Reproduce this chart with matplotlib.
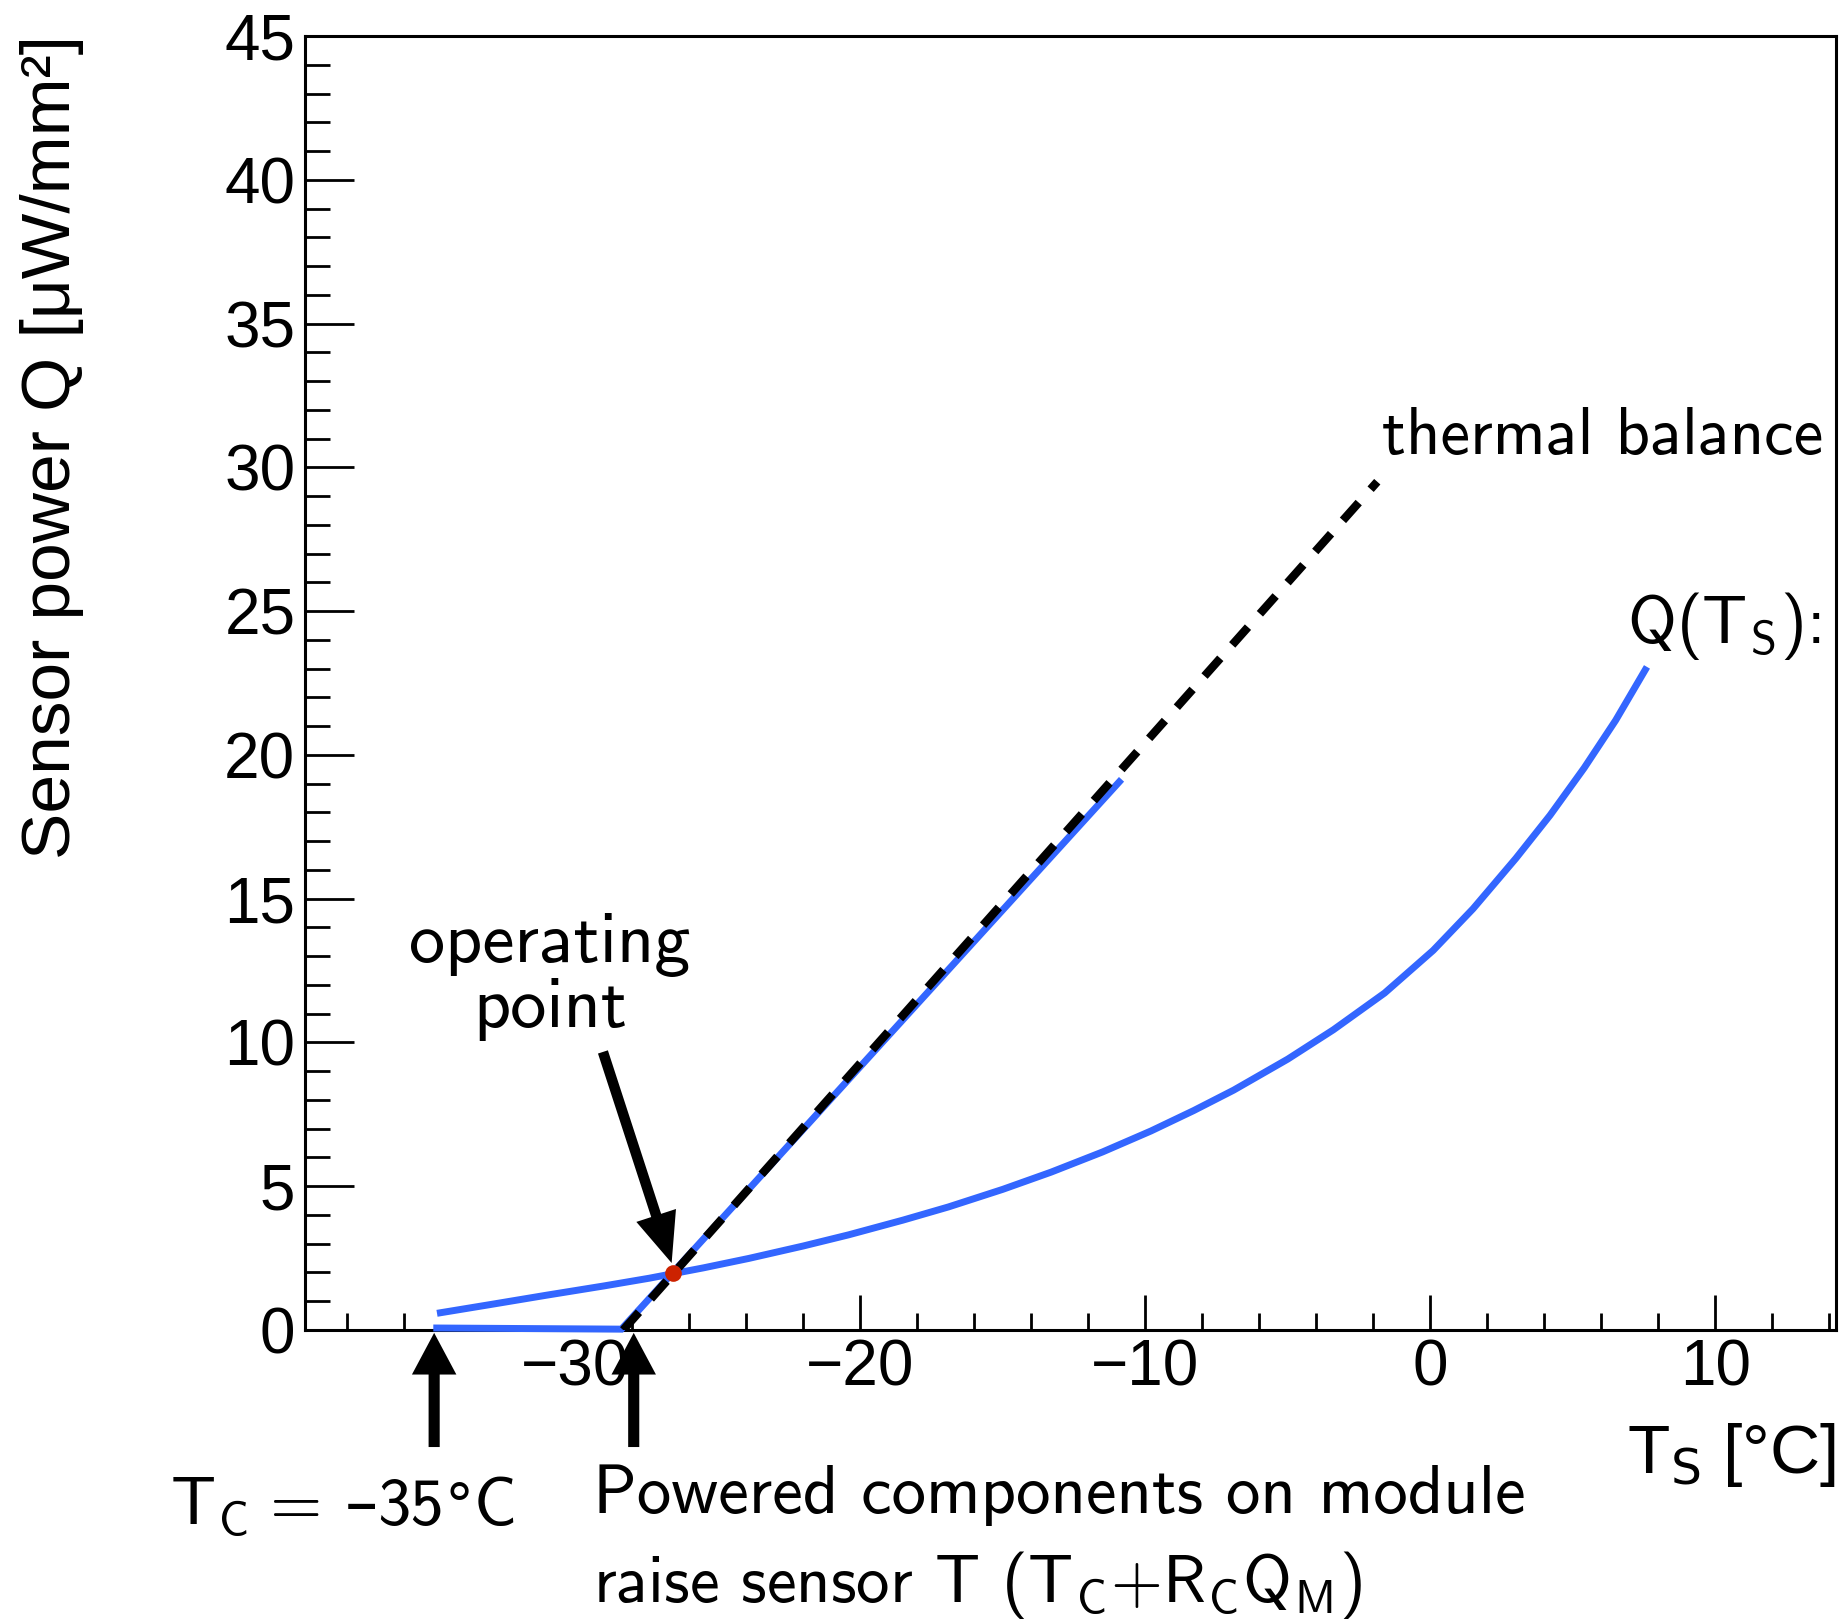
import matplotlib
matplotlib.use('Agg')
import matplotlib.pyplot as plt
from matplotlib.ticker import MultipleLocator

# data
q_T = [-34.84, -33.0, -31.0, -29.0, -27.4, -25.5, -23.9, -22.0, -20.4, -18.5, -16.9,
       -15.0, -13.3, -11.5, -9.8, -8.3, -6.9, -5.0, -3.4, -1.6, 0.1, 1.5, 3.0, 4.2,
       5.4, 6.5, 7.6]
q_Q = [0.58, 0.88, 1.21, 1.53, 1.80, 2.16, 2.49, 2.92, 3.31, 3.82, 4.28,
       4.89, 5.49, 6.19, 6.92, 7.63, 8.34, 9.42, 10.44, 11.72, 13.2, 14.65, 16.4, 17.9,
       19.55, 21.2, 23.06]

powered_T = [-34.97, -28.37, -10.83]
powered_Q = [0.07, 0.03, 19.15]

balance_T = [-28.31, -1.86]
balance_Q = [0.0, 29.5]

op_T = -26.55
op_Q = 1.97

T_C = -34.94
T_powered = -27.94

plt.rcParams['font.family'] = ['Liberation Sans', 'DejaVu Sans']
plt.rcParams['mathtext.fontset'] = 'custom'
plt.rcParams['mathtext.rm'] = 'cmss10'
plt.rcParams['mathtext.sf'] = 'cmss10'
plt.rcParams['mathtext.it'] = 'cmss10'
plt.rcParams['mathtext.fallback'] = 'cm'

blue = '#3366ff'
ann_font = ['cmss10', 'DejaVu Sans']

fig = plt.figure(figsize=(18.4, 16.19), dpi=100)
ax = fig.add_axes([305 / 1840, 289 / 1619, 1531 / 1840, 1294 / 1619])

# white filled area under the powered-components graph (hides some ticks, as in ROOT)
ax.fill(powered_T, powered_Q, color='white', zorder=2.6, lw=0)

ax.plot(q_T, q_Q, color=blue, lw=5, zorder=3, solid_capstyle='butt')
ax.plot(powered_T, powered_Q, color=blue, lw=5, zorder=3, clip_on=False,
        solid_capstyle='butt', solid_joinstyle='miter')
ax.plot(balance_T, balance_Q, color='black', lw=6, zorder=4,
        dashes=(2.85, 2.15), dash_capstyle='butt')
ax.plot([op_T], [op_Q], 'o', color='#cc2200', markersize=12, zorder=5, mec='none')

ax.set_xlim(-39.47, 14.23)
ax.set_ylim(0, 45)
ax.xaxis.set_major_locator(MultipleLocator(10))
ax.xaxis.set_minor_locator(MultipleLocator(2))
ax.yaxis.set_major_locator(MultipleLocator(5))
ax.yaxis.set_minor_locator(MultipleLocator(1))
ax.tick_params(axis='both', which='both', direction='in', width=2,
               top=False, right=False, labelsize=46)
ax.tick_params(axis='x', which='major', length=25, pad=6)
ax.tick_params(axis='x', which='minor', length=12)
ax.tick_params(axis='y', which='major', length=35, pad=7)
ax.tick_params(axis='y', which='minor', length=18)
for sp in ax.spines.values():
    sp.set_linewidth(2.2)

# axis titles, ROOT style (right / top aligned)
ax.text(14.23, -4.97, r'T$_\mathrm{S}$ [°C]', fontsize=50, ha='right', va='baseline',
        math_fontfamily='dejavusans', clip_on=False)
ax.text(-48.35, 45.03, 'Sensor power Q [μW/mm²]', fontsize=50, rotation=90,
        ha='center', va='top', clip_on=False)


# annotations
def ann(x, y, s, ha, size=48):
    return ax.text(x, y, s, fontsize=size, family=ann_font, ha=ha, va='baseline',
                   clip_on=False)


def ann_after(prev, y, s, family=ann_font, size=48):
    # continue a text right after the previous piece, on the same baseline
    return ax.annotate(s, xy=(1, y), xycoords=(prev, 'data'), fontsize=size,
                       family=family, ha='left', va='baseline', annotation_clip=False)


ann(13.77, 30.46, 'thermal balance', 'right')
ann(13.7, 23.89, r'Q(T$_\mathrm{S}$):', 'right')
ann(-30.88, 12.80, 'operating', 'center', 52)
ann(-30.88, 10.54, 'point', 'center', 52)
tc = ann(-44.2, -6.78, r'T$_\mathrm{C}$', 'left')
t2 = ann_after(tc, -6.78, ' = ')
t3 = ann_after(t2, -6.78, '\u2013', family='DejaVu Sans', size=48)
t4 = ann_after(t3, -6.78, '35')
t5 = ann_after(t4, -6.78, '°', family='DejaVu Sans', size=42)
ann_after(t5, -6.78, 'C')
ann(-29.37, -6.36, 'Powered components on module', 'left', 49.5)
ann(-29.37, -9.45, r'raise sensor T (T$_\mathrm{C}$+R$_\mathrm{C}$Q$_\mathrm{M}$)', 'left')

# arrows
ax.annotate('', xy=(op_T - 0.06, op_Q + 0.36), xytext=(-29.02, 9.67),
            arrowprops=dict(arrowstyle='simple,head_length=36,head_width=30,tail_width=7.5',
                            mutation_scale=1, color='black', lw=0, shrinkA=0, shrinkB=0),
            annotation_clip=False, zorder=6)
for xa in [T_C, T_powered]:
    ax.annotate('', xy=(xa, -0.1), xytext=(xa, -4.07),
                arrowprops=dict(arrowstyle='simple,head_length=30,head_width=32,tail_width=8',
                                mutation_scale=1, color='black', lw=0, shrinkA=0, shrinkB=0),
                annotation_clip=False, zorder=6)

fig.savefig('out.png', dpi=100)
